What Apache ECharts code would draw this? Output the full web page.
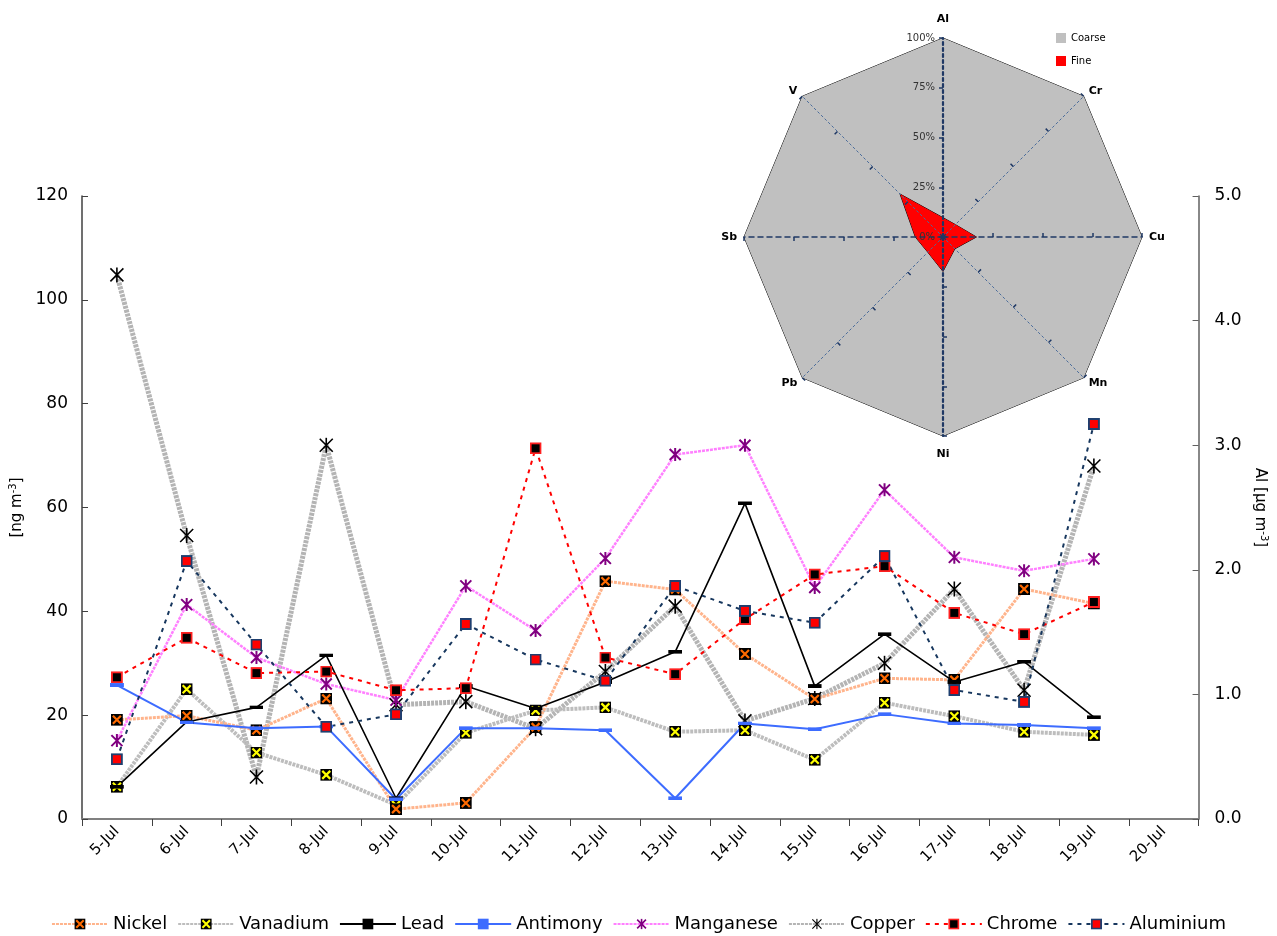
<!DOCTYPE html>
<html>
<head>
<meta charset="utf-8">
<title>Trace metals, July</title>
<script src="https://cdn.jsdelivr.net/npm/echarts@6/dist/echarts.min.js"></script>
<style>
  html, body { margin: 0; padding: 0; background: #ffffff; }
  #chart { width: 1277px; height: 936px; }
</style>
</head>
<body>
<div id="chart"></div>
<script>
// Sampling days (last label closes the axis)
const days = ['5-Jul','6-Jul','7-Jul','8-Jul','9-Jul','10-Jul','11-Jul','12-Jul',
              '13-Jul','14-Jul','15-Jul','16-Jul','17-Jul','18-Jul','19-Jul','20-Jul'];

// Daily concentrations, ng m-3
const nickel    = [19.1, 19.9, 17.1, 23.2, 1.9, 3.1, 17.7, 45.8, 44.2, 31.8, 23.1, 27.1, 26.8, 44.3, 41.5];
const vanadium  = [6.2, 25.0, 12.8, 8.5, 2.7, 16.6, 20.9, 21.5, 16.8, 17.1, 11.4, 22.4, 19.8, 16.8, 16.2];
const lead      = [6.2, 18.7, 21.5, 31.5, 4.0, 25.6, 21.3, 26.4, 32.2, 60.8, 25.6, 35.6, 26.4, 30.3, 19.6];
const antimony  = [25.8, 18.6, 17.5, 17.8, 3.8, 17.5, 17.5, 17.1, 4.0, 18.4, 17.3, 20.2, 18.4, 18.1, 17.5];
const manganese = [15.1, 41.3, 31.1, 26.0, 22.9, 44.9, 36.3, 50.2, 70.2, 72.0, 44.6, 63.4, 50.4, 47.8, 50.1];
const copper    = [104.8, 54.6, 8.1, 72.0, 22.0, 22.6, 17.4, 28.4, 41.0, 18.9, 23.2, 30.0, 44.3, 24.8, 68.0];
const chrome    = [27.3, 34.9, 28.1, 28.4, 24.8, 25.2, 71.4, 31.1, 27.9, 38.5, 47.1, 48.7, 39.7, 35.6, 41.8];
// Aluminium, µg m-3 (right axis)
const aluminium = [0.48, 2.07, 1.40, 0.74, 0.84, 1.565, 1.28, 1.11, 1.87, 1.67, 1.575, 2.11, 1.035, 0.94, 3.17];

// Axis ticks
const leftTicks  = [0, 20, 40, 60, 80, 100, 120];
const rightTicks = [0, 1, 2, 3, 4, 5];

// Coarse / fine split per element, % (counter-clockwise from the top)
const elements   = ['Al', 'V', 'Sb', 'Pb', 'Ni', 'Mn', 'Cu', 'Cr'];
const coarse     = [100, 100, 100, 100, 100, 100, 100, 100];
const fine       = [9.7, 30.5, 13.9, 10.8, 17.3, 8.4, 16.8, 8.8];
const radarTicks = [0, 25, 50, 75, 100];

const FONT = '"DejaVu Sans", "Noto Sans", sans-serif';
const RADAR_CENTER = [943, 237];
const RADAR_RADIUS = 199;

// Marker glyphs as small inline SVG images
function svgSymbol(w, h, body) {
  const svg = '<svg xmlns="http://www.w3.org/2000/svg" width="' + w + '" height="' + h +
              '" viewBox="0 0 ' + w + ' ' + h + '">' + body + '</svg>';
  return 'image://data:image/svg+xml;charset=utf-8,' + encodeURIComponent(svg);
}
const crossBox = (c) => svgSymbol(12, 12,
  '<rect x="0" y="0" width="12" height="12" fill="#000"/>' +
  '<path d="M2,2L10,10M10,2L2,10" stroke="' + c + '" stroke-width="2.2"/>');
const bar = (c) => svgSymbol(14, 4, '<rect x="0" y="0" width="14" height="4" fill="' + c + '"/>');
const star = (c, s, sw) => svgSymbol(s, s,
  '<path d="M1.5,1.5L' + (s - 1.5) + ',' + (s - 1.5) + 'M' + (s - 1.5) + ',1.5L1.5,' + (s - 1.5) +
  'M' + (s / 2) + ',0.5V' + (s - 0.5) + '" stroke="' + c + '" stroke-width="' + sw + '"/>');
const box = (fill, edge) => svgSymbol(12, 12,
  '<rect x="1" y="1" width="10" height="10" fill="' + fill + '" stroke="' + edge + '" stroke-width="2"/>');

function lineSeries(name, data, color, width, type, symbol, size, axis) {
  return {
    name: name, type: 'line', data: data, yAxisIndex: axis || 0,
    symbol: symbol, symbolSize: size,
    lineStyle: { color: color, width: width, type: type },
    itemStyle: { color: color },
    emphasis: { disabled: true }
  };
}

const lines = [
  lineSeries('Copper', copper, '#b4b4b4', 5, [3, 1], star('#000', 16, 1.6), 16),
  lineSeries('Vanadium', vanadium, '#bdbdbd', 4, [3, 1], crossBox('#ffff00'), 12),
  lineSeries('Nickel', nickel, '#ffb48c', 3, [3, 1], crossBox('#ff6a00'), 12),
  lineSeries('Manganese', manganese, '#ff80ff', 2.5, [3, 1], star('#800080', 14, 2), 14),
  lineSeries('Lead', lead, '#000000', 1.6, 'solid', bar('#000'), [14, 4]),
  lineSeries('Antimony', antimony, '#3d6cff', 2, 'solid', bar('#3d6cff'), [14, 4]),
  lineSeries('Chrome', chrome, '#ff0000', 2, [4, 5], box('#000', '#ff2020'), 12),
  lineSeries('Aluminium', aluminium, '#17375e', 2, [4, 5], box('#ff0000', '#1f3f6f'), 12, 1)
];

const radarSeries = [
  { name: 'Coarse', type: 'radar', z: 3, symbol: 'none', data: [{ value: coarse, name: 'Coarse' }],
    itemStyle: { color: '#c0c0c0' }, lineStyle: { color: '#000', width: 1 },
    areaStyle: { color: '#c0c0c0', opacity: 1 } },
  { name: 'Fine', type: 'radar', z: 4, symbol: 'none', data: [{ value: fine, name: 'Fine' }],
    itemStyle: { color: '#ff0000' }, lineStyle: { color: '#000', width: 1 },
    areaStyle: { color: '#ff0000', opacity: 1 } }
];

// Radar axes: the cardinal ones heavy, the diagonals light
const heavyV = { show: true, lineStyle: { color: '#1f3864', width: 2.2, type: [3, 3] } };
const heavyH = { show: true, lineStyle: { color: '#1f3864', width: 1.5, type: [5, 4] } };
const light  = { show: true, lineStyle: { color: '#4a6c9b', width: 1, type: [2, 3] } };

const radarBase = {
  center: RADAR_CENTER, radius: RADAR_RADIUS, startAngle: 90, shape: 'polygon', splitNumber: 4,
  axisName: { color: '#000', fontSize: 11, fontWeight: 'bold', fontFamily: FONT },
  nameGap: 8,
  splitLine: { show: false },
  splitArea: { show: false }
};
const radarStyled = Object.assign({}, radarBase, {
  z: 5,
  axisLine: light,
  axisTick: { show: true, length: 4, lineStyle: { color: '#1f3864', width: 1.5 } },
  indicator: elements.map(function (el) {
    const vertical = el === 'Al' || el === 'Ni';
    const horizontal = el === 'Sb' || el === 'Cu';
    return { name: el, min: 0, max: 100,
             nameGap: vertical ? 13 : 7,
             axisLine: vertical ? heavyV : (horizontal ? heavyH : light) };
  })
});
const radarSimple = Object.assign({}, radarBase, {
  z: 5,
  axisLine: light,
  indicator: elements.map(el => ({ name: el, min: 0, max: 100 }))
});
const radarPlain = Object.assign({}, radarBase, {
  indicator: elements.map(el => ({ name: el, min: 0, max: 100 }))
});

function buildOption(radar) {
  return {
    animation: false,
    backgroundColor: '#ffffff',
    textStyle: { fontFamily: FONT },
    grid: [
      { left: 82, right: 74, top: 196, bottom: 117 },
      // scale for the percentage labels along the Al spoke
      { left: RADAR_CENTER[0], width: 1, top: RADAR_CENTER[1] - RADAR_RADIUS, height: RADAR_RADIUS }
    ],
    xAxis: [{
      type: 'category', data: days, boundaryGap: true, gridIndex: 0,
      axisLine: { lineStyle: { color: '#808080', width: 2 } },
      axisTick: { show: true, alignWithLabel: false, interval: 0, length: 7, lineStyle: { color: '#404040', width: 1 } },
      axisLabel: { rotate: 45, interval: 0, margin: 10, fontSize: 15, color: '#000' }
    }, {
      type: 'value', gridIndex: 1, min: 0, max: 1, show: false
    }],
    yAxis: [{
      type: 'value', gridIndex: 0,
      min: leftTicks[0], max: leftTicks[leftTicks.length - 1], interval: leftTicks[1] - leftTicks[0],
      name: '[ng m{sup|-3}]', nameLocation: 'middle', nameGap: 55, nameRotate: 90,
      nameTextStyle: { fontSize: 15, color: '#000',
        rich: { sup: { fontSize: 10, verticalAlign: 'top', padding: [0, 0, 8, 0] } } },
      axisLine: { show: true, lineStyle: { color: '#404040', width: 1.5 } },
      axisTick: { show: true, inside: true, length: 6 },
      axisLabel: { fontSize: 17, color: '#000', margin: 14 },
      splitLine: { show: false }
    }, {
      type: 'value', gridIndex: 0, position: 'right',
      min: rightTicks[0], max: rightTicks[rightTicks.length - 1], interval: rightTicks[1] - rightTicks[0],
      name: 'Al [µg m{sup|-3}]', nameLocation: 'middle', nameGap: 40, nameRotate: -90,
      nameTextStyle: { fontSize: 15, color: '#000',
        rich: { sup: { fontSize: 10, verticalAlign: 'top', padding: [0, 0, 8, 0] } } },
      axisLine: { show: true, lineStyle: { color: '#606060', width: 1.5 } },
      axisTick: { show: true, inside: true, length: 6 },
      axisLabel: { fontSize: 17, color: '#000', margin: 16, formatter: (v) => v.toFixed(1) },
      splitLine: { show: false }
    }, {
      type: 'value', gridIndex: 1, z: 20,
      min: radarTicks[0], max: radarTicks[radarTicks.length - 1], interval: radarTicks[1] - radarTicks[0],
      axisLine: { show: false }, axisTick: { show: false }, splitLine: { show: false },
      axisLabel: { fontSize: 10, color: '#333', margin: 8, formatter: '{value}%' }
    }],
    radar: radar,
    legend: [{
      data: ['Nickel', 'Vanadium', 'Lead', 'Antimony', 'Manganese', 'Copper', 'Chrome', 'Aluminium'],
      left: 'center', top: 910, itemWidth: 56, itemHeight: 14, itemGap: 10,
      textStyle: { fontSize: 18, color: '#000' }, selectedMode: false
    }, {
      data: ['Coarse', 'Fine'], left: 1051, top: 28, orient: 'vertical',
      icon: 'rect', itemWidth: 10, itemHeight: 10, itemGap: 13,
      textStyle: { fontSize: 10, color: '#000' }, selectedMode: false
    }],
    series: lines.concat(radarSeries)
  };
}

// Use the richest radar styling this ECharts build accepts
function accepts(option) {
  const probe = document.createElement('div');
  probe.style.cssText = 'position:absolute;left:-4000px;top:0;width:1277px;height:936px';
  document.body.appendChild(probe);
  const c = echarts.init(probe);
  let ok = true;
  try { c.setOption(option); } catch (e) { ok = false; }
  c.dispose();
  probe.remove();
  return ok;
}
const candidates = [radarStyled, radarSimple, radarPlain].map(buildOption);
const chosen = candidates.find(accepts) || candidates[candidates.length - 1];

const chart = echarts.init(document.getElementById('chart'));
chart.setOption(chosen);
</script>
</body>
</html>
